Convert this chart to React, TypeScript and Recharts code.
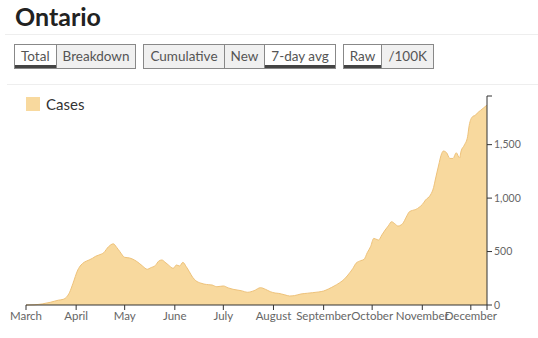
import React from "react";
import { Area, AreaChart, XAxis, YAxis } from "recharts";

// dias contados a partir de 1 de marco
const DAYS = [
  0, 5, 10, 15, 20, 23, 27, 29, 32, 34, 36, 39, 41, 43, 45, 48, 51, 54, 56, 58,
  61, 64, 67, 70, 72, 75, 77, 80, 82, 84, 86, 88, 91, 93, 95, 97, 99, 101, 103,
  105, 108, 110, 113, 115, 118, 122, 125, 128, 133, 137, 141, 145, 148, 151,
  154, 156, 160, 163, 166, 170, 174, 177, 181, 184, 187, 189, 192, 194, 197,
  199, 202, 204, 207, 209, 211, 213, 215, 217, 218, 220, 222, 224, 226, 228,
  230, 232, 233, 235, 237, 239, 241, 243, 245, 247, 250, 252, 253, 255, 257,
  258, 260, 262, 264, 266, 268, 269, 271, 273, 274, 276, 278, 279, 281, 283,
  285,
];

const CASES = [
  0, 2, 10, 25, 45, 53, 120, 200, 327, 374, 400, 421, 436, 455, 467, 489, 545,
  572, 540, 500, 446, 440, 421, 390, 365, 334, 348, 370, 410, 421, 400, 375,
  343, 374, 365, 399, 360, 311, 260, 227, 205, 196, 190, 187, 171, 178, 160,
  147, 134, 119, 134, 162, 147, 125, 112, 109, 95, 84, 88, 103, 110, 115, 122,
  131, 150, 165, 190, 209, 245, 280, 340, 390, 415, 427, 490, 545, 623, 612,
  608, 655, 701, 740, 779, 760, 738, 750, 764, 820, 872, 885, 894, 913, 940,
  982, 1028, 1100, 1169, 1300, 1418, 1440, 1425, 1371, 1371, 1424, 1375, 1440,
  1496, 1574, 1680, 1761, 1777, 1795, 1820, 1845, 1870,
];

const MONTHS = [
  "March",
  "April",
  "May",
  "June",
  "July",
  "August",
  "September",
  "October",
  "November",
  "December",
];
const MONTH_STARTS = [0, 31, 61, 92, 122, 153, 184, 214, 245, 275];
const X_MAX = 285;

const Y_TICKS = [0, 500, 1000, 1500];
const Y_MAX = 1955;

const BUTTON_GROUPS = [
  { labels: ["Total", "Breakdown"], selected: 0 },
  { labels: ["Cumulative", "New", "7-day avg"], selected: 2 },
  { labels: ["Raw", "/100K"], selected: 0 },
];

const FONT = "Lato, 'Open Sans', sans-serif";

const data = DAYS.map((d, i) => ({ day: d, cases: CASES[i] }));

function formataMes(v: number): string {
  const i = MONTH_STARTS.indexOf(v);
  return i >= 0 ? MONTHS[i] : "";
}

function formataY(v: number): string {
  return Y_TICKS.includes(v) ? v.toLocaleString("en-US") : "";
}

function Botoes() {
  return (
    <div
      style={{
        position: "absolute",
        top: 44,
        left: 14,
        display: "flex",
        gap: 7,
      }}
    >
      {BUTTON_GROUPS.map((g, gi) => (
        <div key={gi} style={{ display: "flex" }}>
          {g.labels.map((l, li) => {
            const sel = li === g.selected;
            return (
              <div
                key={l}
                style={{
                  height: 23,
                  lineHeight: "23px",
                  padding: "0 6px",
                  fontSize: 13.5,
                  color: "#555",
                  background: sel ? "#fff" : "#f0f0f0",
                  border: "1px solid #888",
                  borderLeft: li === 0 ? "1px solid #888" : "none",
                  boxShadow: sel ? "inset 0 -3px 0 #444" : "none",
                  boxSizing: "content-box",
                }}
              >
                {l}
              </div>
            );
          })}
        </div>
      ))}
    </div>
  );
}

export default function App() {
  return (
    <div
      style={{
        position: "relative",
        width: 538,
        height: 338,
        fontFamily: FONT,
        background: "#fff",
        overflow: "hidden",
      }}
    >
      <style>{`body{margin:0}`}</style>
      <div
        style={{
          position: "absolute",
          left: 15,
          top: 1,
          fontSize: 25,
          fontWeight: 700,
          color: "#222",
        }}
      >
        Ontario
      </div>
      <div
        style={{
          position: "absolute",
          left: 5,
          right: 0,
          top: 34,
          borderTop: "1px solid #eee",
        }}
      />
      <Botoes />
      <div
        style={{
          position: "absolute",
          left: 7,
          right: 0,
          top: 84,
          borderTop: "1px solid #eee",
        }}
      />
      <div
        style={{
          position: "absolute",
          left: 26,
          top: 95,
          display: "flex",
          alignItems: "center",
          gap: 6,
        }}
      >
        <div style={{ width: 14, height: 14, background: "#f8d99e" }} />
        <span style={{ fontSize: 15, color: "#333" }}>Cases</span>
      </div>
      <div style={{ position: "absolute", left: 0, top: 84 }}>
        <AreaChart
          width={538}
          height={254}
          data={data}
          margin={{ top: 12, right: 11, bottom: 8, left: 26 }}
        >
          <XAxis
            dataKey="day"
            type="number"
            domain={[0, X_MAX]}
            ticks={[...MONTH_STARTS, X_MAX]}
            tickFormatter={formataMes}
            interval={0}
            height={25}
            tickSize={5}
            tick={{ fill: "#666", fontSize: 11.5, fontFamily: FONT }}
            stroke="#333"
          />
          <YAxis
            orientation="right"
            type="number"
            domain={[0, Y_MAX]}
            ticks={[...Y_TICKS, Y_MAX]}
            tickFormatter={formataY}
            interval={0}
            width={40}
            tickSize={5}
            tick={{ fill: "#666", fontSize: 10.5, fontFamily: FONT }}
            stroke="#333"
          />
          <Area
            type="monotone"
            dataKey="cases"
            stroke="#eec27a"
            strokeWidth={1}
            fill="#f8d99e"
            fillOpacity={1}
            isAnimationActive={false}
          />
        </AreaChart>
      </div>
    </div>
  );
}
